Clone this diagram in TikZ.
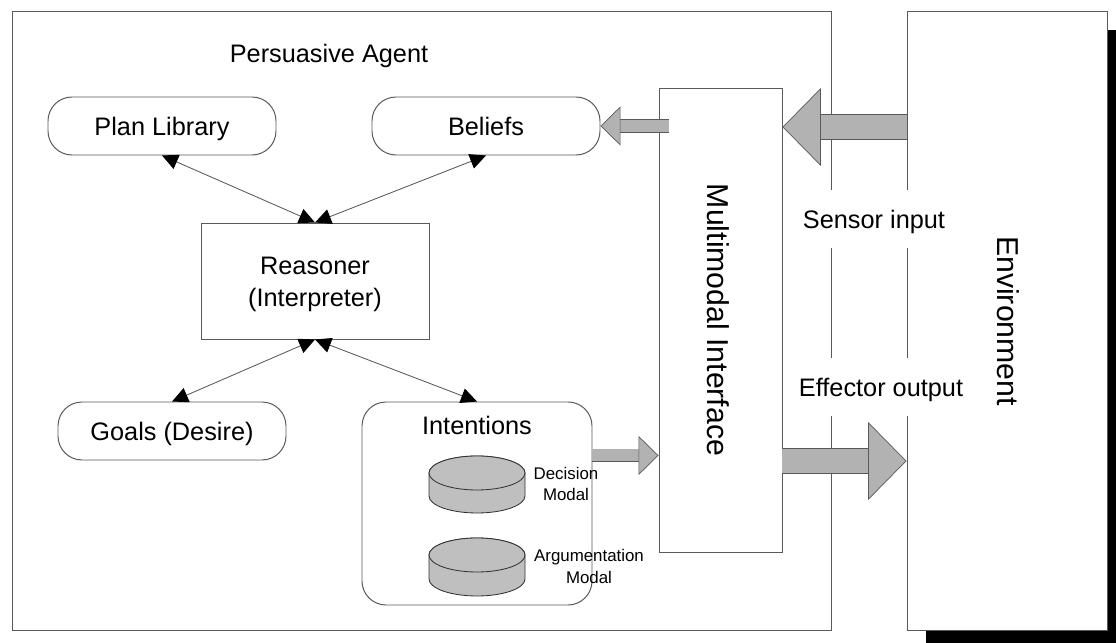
\documentclass[tikz,border=0pt]{standalone}
\usepackage{fontspec}
\setmainfont{Liberation Sans}
\usetikzlibrary{arrows.meta}
\definecolor{linegray}{gray}{0.35}
\definecolor{arrowgray}{gray}{0.70}
\definecolor{diskgray}{gray}{0.75}
\newcommand{\smalltext}{\fontsize{12}{15.3}\selectfont}
\newcommand{\sidetext}{\fontsize{21.5}{26}\selectfont}
\tikzset{
  panel/.style={draw=linegray,line width=.7pt,fill=white,inner sep=0pt},
  roundpanel/.style={panel,rounded corners=.6cm,text height=.64cm,text depth=.15cm},
  thinarrow/.style={draw=linegray,line width=.6pt,{Triangle[length=.4cm,width=.38cm,black]}-{Triangle[length=.4cm,width=.38cm,black]}},
  bigarrow/.style={draw=linegray,line width=.5pt,double=arrowgray,double distance=.62cm,
    -{Triangle[length=.96cm,width=1.95cm,fill=arrowgray,color=linegray,line width=.5pt]}},
  smallarrow/.style={draw=linegray,line width=.5pt,double=arrowgray,double distance=.3cm,
    -{Triangle[length=.5cm,width=.98cm,fill=arrowgray,color=linegray,line width=.5pt]}},
  disk/.style={draw=black!80,line width=.6pt,fill=diskgray},
  gaplabel/.style={fill=white,inner sep=0pt,minimum height=1.45cm,text height=.65cm,text depth=.15cm},
  every node/.append style={font=\fontsize{18}{23}\selectfont,align=center}
}

\begin{document}
\begin{tikzpicture}
  \useasboundingbox (0,0) rectangle (27.9,16.075);

  % Shadow of the environment
  \fill[black] (23.15,0) rectangle (27.9,15.325);

  % Agent and environment
  \node[panel,minimum width=20.475cm,minimum height=15.475cm] (agent) at (10.5375,8.0625) {};
  \node[panel,minimum width=5cm,minimum height=15.475cm] (env) at (25.175,8.0625) {};
  \node[rotate=-90,font=\sidetext] (envtext) at (25.2,8.05) {Environment};
  \node (agenttext) at (8.225,14.68) {Persuasive Agent};

  % Interface
  \node[panel,minimum width=3.075cm,minimum height=11.6cm] (iface) at (18.0125,8.075) {};
  \node[rotate=-90,font=\sidetext] (ifacetext) at (17.96,8.075) {Multimodal Interface};

  % Inside the agent
  \node[roundpanel,minimum width=5.7cm,minimum height=1.45cm] (plan) at (4.05,12.925) {Plan Library};
  \node[roundpanel,minimum width=5.7cm,minimum height=1.45cm] (beliefs) at (12.15,12.925) {Beliefs};
  \node[panel,minimum width=5.7cm,minimum height=2.9cm] (reasoner) at (7.875,9.05) {};
  \node (reasonertext) at (7.875,8.96) {Reasoner\\(Interpreter)};
  \node[roundpanel,minimum width=5.7cm,minimum height=1.45cm] (goals) at (4.3,5.3) {Goals (Desire)};
  \node[panel,rounded corners=.6cm,minimum width=5.75cm,minimum height=5.075cm] (intentions) at (11.925,3.4875) {};
  \node (intenttext) at (11.925,5.45) {Intentions};

  % Modals
  \foreach \top/\bottom in {4.25/3.675,2.2/1.6} {
    \draw[disk] (10.725,\top) -- (10.725,\bottom) arc[start angle=180,end angle=360,x radius=1.2,y radius=.425]
      -- (13.125,\top) arc[start angle=0,end angle=180,x radius=1.2,y radius=.425] -- cycle;
    \draw[disk] (11.925,\top) circle [x radius=1.2,y radius=.425];
  }
  \node[font=\smalltext] (decisiontext) at (14.15,3.975) {Decision\\Modal};
  \node[font=\smalltext] (argumenttext) at (14.725,1.9125) {Argumentation\\Modal};

  % Reasoner links
  \draw[thinarrow] (reasoner.north) -- (plan.south);
  \draw[thinarrow] (reasoner.north) -- (beliefs.south);
  \draw[thinarrow] (reasoner.south) -- (goals.north);
  \draw[thinarrow] (reasoner.south) -- (intentions.north);

  % Block arrows
  \coordinate (sensorfrom) at (22.675,12.9);
  \coordinate (beliefsfrom) at (16.7125,12.925);
  \coordinate (intentfrom) at (14.8,4.6875);
  \coordinate (effectorfrom) at (19.55,4.55);
  \draw[bigarrow] (sensorfrom) -- (sensorfrom -| iface.east);
  \draw[smallarrow] (beliefsfrom) -- (beliefs.east);
  \draw[smallarrow] (intentfrom) -- (intentfrom -| iface.west);
  \draw[bigarrow] (effectorfrom) -- (effectorfrom -| env.west);

  % Labels over the gaps
  \node[gaplabel] (sensor) at (21.85,10.6) {Sensor input};
  \node[gaplabel] (effector) at (22.025,6.4) {Effector output};
\end{tikzpicture}
\end{document}
